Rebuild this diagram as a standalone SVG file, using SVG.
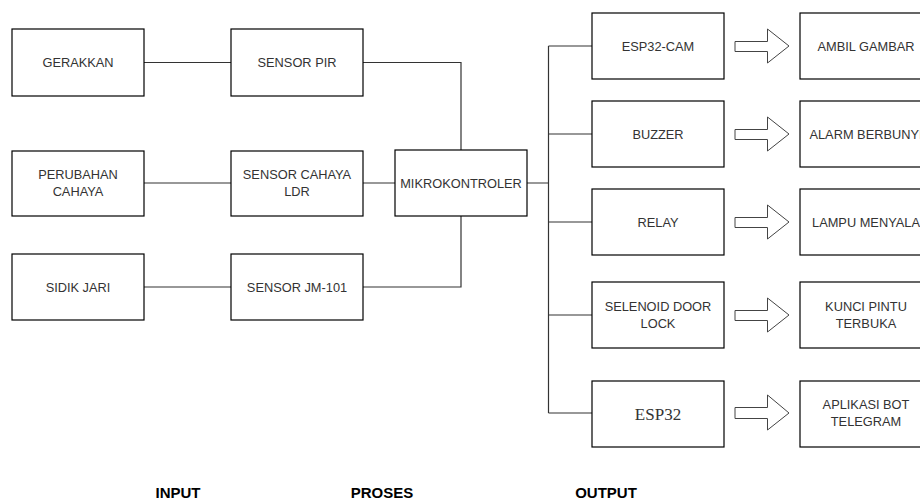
<svg xmlns="http://www.w3.org/2000/svg" width="920" height="502" viewBox="0 0 920 502">
<style>
.box{fill:#fff;stroke:#000;stroke-width:1.2}
.t{font-family:"Liberation Sans",Arial,sans-serif;font-size:12.8px;fill:#333;text-anchor:middle}
.s{font-family:"Liberation Serif","Times New Roman",serif;font-size:17px;fill:#333;text-anchor:middle}
.h{font-family:"Liberation Sans",Arial,sans-serif;font-size:15px;font-weight:bold;fill:#000;text-anchor:middle}
.ln{fill:none;stroke:#333;stroke-width:1.2}
.ar{fill:#fff;stroke:#444;stroke-width:1}
</style>
<rect width="920" height="502" fill="#fff"/>
<g id="connectors">
<path class="ln" d="M144 62.5H231M144 183H231M144 287H231"/>
<path class="ln" d="M363 62.5H461V150M363 183H395M363 287H461V216"/>
<path class="ln" d="M527 183H548.5M548.5 46V413M548.5 46H592M548.5 134H592M548.5 222H592M548.5 315H592M548.5 413H592"/>
<path class="ar" d="M735 41.5H767.5V29L789 46L767.5 63V51.5H735Z"/>
<path class="ar" d="M735 129.5H767.5V117L789 134L767.5 151V139.5H735Z"/>
<path class="ar" d="M735 217.5H767.5V205L789 222L767.5 239V227.5H735Z"/>
<path class="ar" d="M735 310.5H767.5V298L789 315L767.5 332V320.5H735Z"/>
<path class="ar" d="M735 407.5H767.5V395L789 413L767.5 430V418.5H735Z"/>
</g>
<g id="gerakkan"><rect class="box" x="12" y="29" width="132" height="67"/><text class="t" x="78" y="67">GERAKKAN</text></g>
<g id="perubahan"><rect class="box" x="12" y="151" width="132" height="65"/><text class="t" x="78" y="179">PERUBAHAN</text><text class="t" x="78" y="196">CAHAYA</text></g>
<g id="sidik"><rect class="box" x="12" y="254" width="132" height="66"/><text class="t" x="78" y="291.5">SIDIK JARI</text></g>
<g id="pir"><rect class="box" x="231" y="29" width="132" height="67"/><text class="t" x="297" y="67">SENSOR PIR</text></g>
<g id="ldr"><rect class="box" x="231" y="151" width="132" height="65"/><text class="t" x="297" y="179">SENSOR CAHAYA</text><text class="t" x="297" y="196">LDR</text></g>
<g id="jm"><rect class="box" x="231" y="254" width="132" height="66"/><text class="t" x="297" y="291.5">SENSOR JM-101</text></g>
<g id="mikro"><rect class="box" x="395" y="150" width="132" height="66"/><text class="t" x="461" y="187.5">MIKROKONTROLER</text></g>
<g id="esp32cam"><rect class="box" x="592" y="13" width="132" height="66"/><text class="t" x="658" y="50.5">ESP32-CAM</text></g>
<g id="buzzer"><rect class="box" x="592" y="101" width="132" height="66"/><text class="t" x="658" y="138.5">BUZZER</text></g>
<g id="relay"><rect class="box" x="592" y="189" width="132" height="66"/><text class="t" x="658" y="226.5">RELAY</text></g>
<g id="selenoid"><rect class="box" x="592" y="282" width="132" height="66"/><text class="t" x="658" y="311">SELENOID DOOR</text><text class="t" x="658" y="328">LOCK</text></g>
<g id="esp32"><rect class="box" x="592" y="381" width="132" height="66"/><text class="s" x="658" y="419.5">ESP32</text></g>
<g id="ambil"><rect class="box" x="800" y="13" width="132" height="66"/><text class="t" x="866" y="50.5">AMBIL GAMBAR</text></g>
<g id="alarm"><rect class="box" x="800" y="101" width="132" height="66"/><text class="t" x="866" y="138.5">ALARM BERBUNYI</text></g>
<g id="lampu"><rect class="box" x="800" y="189" width="132" height="66"/><text class="t" x="866" y="226.5">LAMPU MENYALA</text></g>
<g id="kunci"><rect class="box" x="800" y="282" width="132" height="66"/><text class="t" x="866" y="311">KUNCI PINTU</text><text class="t" x="866" y="328">TERBUKA</text></g>
<g id="aplikasi"><rect class="box" x="800" y="381" width="132" height="66"/><text class="t" x="866" y="409">APLIKASI BOT</text><text class="t" x="866" y="426">TELEGRAM</text></g>
<g id="labels">
<text class="h" x="178" y="498">INPUT</text>
<text class="h" x="382" y="498">PROSES</text>
<text class="h" x="606" y="498">OUTPUT</text>
</g>
</svg>
